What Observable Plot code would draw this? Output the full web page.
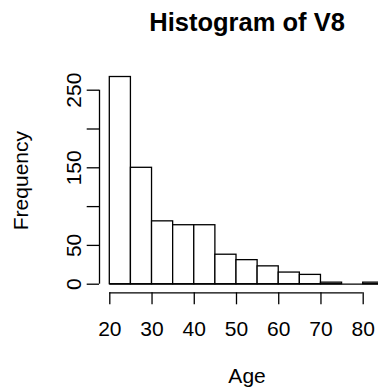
<!DOCTYPE html>
<html>
<head>
<meta charset="utf-8">
<script src="https://cdn.jsdelivr.net/npm/d3@7"></script>
<script src="https://cdn.jsdelivr.net/npm/@observablehq/plot@0.6"></script>
<style>
  html, body { margin: 0; padding: 0; background: #fff; overflow: hidden; }
  #chart svg { display: block; }
</style>
</head>
<body>
<div id="chart"></div>
<script>
// Age histogram: bin edges (width 5) and the count in each bin
const breaks = [20, 25, 30, 35, 40, 45, 50, 55, 60, 65, 70, 75, 80, 85];
const counts = [267, 150, 81, 76, 76, 38, 31, 23, 15, 12, 2, 0, 2];

// Axis ticks and their labels (100 and 200 are ticked but not labelled)
const xTicks = [20, 30, 40, 50, 60, 70, 80];
const yTicks = [0, 50, 100, 150, 200, 250];
const yTickLabels = ["0", "50", "", "150", "", "250"];

const titleText = "Histogram of V8";
const xLabelText = "Age";
const yLabelText = "Frequency";

const bins = counts.map((n, i) => ({x1: breaks[i], x2: breaks[i + 1], n}));
const yLabels = yTicks.map((v, i) => ({v, label: yTickLabels[i]}));

// Centre of the plotting region, used for the title and axis titles
const xMid = (breaks[0] + breaks[breaks.length - 1]) / 2;
const yMid = d3.max(counts) / 2;

const font = "'Liberation Sans', Arial, Helvetica, sans-serif";
const lw = 1.3;
const axisGap = 8.6;   // gap between the data and the x axis line
const yAxisGap = 10.3; // gap between the data and the y axis line

const chart = Plot.plot({
  width: 378,
  height: 391,
  marginLeft: 109.3,
  marginRight: 15.3,
  marginTop: 89.7,
  marginBottom: 107.3,
  style: {fontFamily: font, background: "#fff", color: "#000"},
  x: {domain: [xTicks[0], xTicks[xTicks.length - 1]]},
  y: {domain: [yTicks[0], yTicks[yTicks.length - 1]]},
  marks: [
    // bars
    Plot.rect(bins, {x1: "x1", x2: "x2", y1: 0, y2: "n", fill: "#fff", stroke: "#000", strokeWidth: lw}),
    Plot.ruleY([0], {x1: breaks[0], x2: breaks[breaks.length - 1], stroke: "#000", strokeWidth: lw}),

    // x axis: line, ticks, labels
    Plot.ruleY([0], {x1: xTicks[0], x2: xTicks[xTicks.length - 1], dy: axisGap, stroke: "#000", strokeWidth: lw}),
    Plot.axisX({ticks: xTicks, tickSize: 12, dy: axisGap, tickFormat: () => null, label: null, strokeWidth: lw}),
    Plot.text(xTicks, {x: d => d, frameAnchor: "bottom", dy: 45.5, lineAnchor: "middle", text: d => String(d), fontSize: 21, fill: "#000"}),
    Plot.text([xLabelText], {x: xMid, frameAnchor: "bottom", dy: 92.5, lineAnchor: "middle", text: d => d, fontSize: 21, fill: "#000"}),

    // y axis: line, ticks, rotated labels
    Plot.ruleX([xTicks[0]], {y1: yTicks[0], y2: yTicks[yTicks.length - 1], dx: -yAxisGap, stroke: "#000", strokeWidth: lw}),
    Plot.axisY({ticks: yTicks, tickSize: 12.3, dx: -yAxisGap, tickFormat: () => null, label: null, strokeWidth: lw}),
    Plot.text(yLabels, {y: "v", text: "label", frameAnchor: "left", dx: -35.3, rotate: -90, textAnchor: "middle", lineAnchor: "middle", fontSize: 21, fill: "#000"}),
    Plot.text([yLabelText], {y: yMid, frameAnchor: "left", dx: -88.5, rotate: -90, textAnchor: "middle", lineAnchor: "middle", text: d => d, fontSize: 21, fill: "#000"}),

    // title
    Plot.text([titleText], {x: xMid, frameAnchor: "top", dy: -67.2, lineAnchor: "middle", text: d => d, fontSize: 25.5, fontWeight: "bold", fill: "#000"})
  ]
});

document.getElementById("chart").appendChild(chart);
</script>
</body>
</html>
